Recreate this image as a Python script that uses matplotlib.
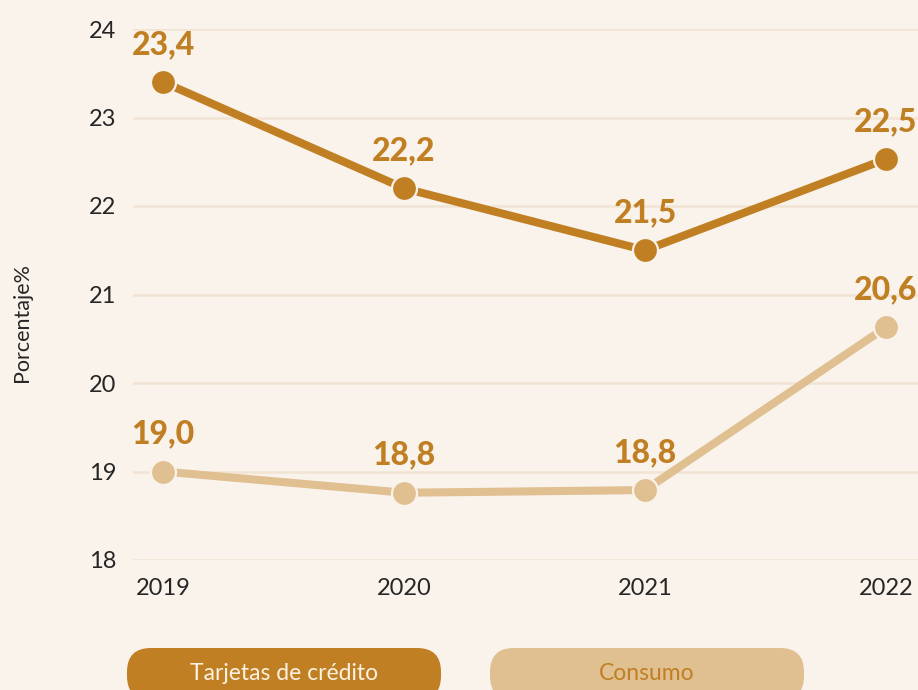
import matplotlib
matplotlib.use("Agg")
import matplotlib.pyplot as plt
from matplotlib.patches import FancyBboxPatch

years = ["2019", "2020", "2021", "2022"]
tarjetas = [23.4, 22.2, 21.5, 22.53]
consumo = [19.0, 18.76, 18.79, 20.63]
series_names = ["Tarjetas de crédito", "Consumo"]
y_ticks = [18, 19, 20, 21, 22, 23, 24]

BG = "#f9f3ec"
GOLD = "#c07f22"
TAN = "#e0bf90"
GRID = "#f1e4d2"
INK = "#262626"

plt.rcParams["font.family"] = ["Lato", "DejaVu Sans"]

fig = plt.figure(figsize=(9.18, 6.90), dpi=100, facecolor=BG)
ax = fig.add_axes([133 / 918, 130 / 690, 785 / 918, 531 / 690])
ax.set_facecolor(BG)

x = list(range(len(years)))
for vals, color in [(consumo, TAN), (tarjetas, GOLD)]:
    ax.plot(x, vals, color=color, lw=5.8, marker="o", ms=18,
            mec=BG, mew=1.6, solid_capstyle="round", zorder=3, clip_on=False)
    for xi, v in zip(x, vals):
        ax.annotate(f"{v:.1f}".replace(".", ","), (xi, v), xytext=(0, 27),
                    textcoords="offset points", ha="center", va="center",
                    fontsize=23, fontweight="black", color=GOLD, zorder=4,
                    annotation_clip=False)

ax.set_xlim(-0.125, 3.133)
ax.set_ylim(18, 24)
ax.set_yticks(y_ticks)
ax.set_xticks(x, years)
ax.yaxis.grid(True, color=GRID, lw=1.8)
ax.set_axisbelow(True)
for s in ax.spines.values():
    s.set_visible(False)
ax.tick_params(axis="both", length=0, labelsize=17, labelcolor=INK)
ax.tick_params(axis="y", pad=12)
ax.tick_params(axis="x", pad=13)

fig.text(22 / 918, 1 - 323 / 690, "Porcentaje%", rotation=90, ha="center",
         va="center", fontsize=15.5, color=INK)

# legend pills
pills = [(127, 441, GOLD, "#fbf1e2"), (490, 804, TAN, GOLD)]
for name, (x0, x1, fc, tc) in zip(series_names, pills):
    box = FancyBboxPatch((x0 / 918, 1 - 700 / 690), (x1 - x0) / 918, 52 / 690,
                         boxstyle="round,pad=0,rounding_size=0.026",
                         transform=fig.transFigure, facecolor=fc,
                         edgecolor="none", mutation_aspect=918 / 690)
    fig.patches.append(box)
    fig.text((x0 + x1) / 2 / 918, 1 - 673 / 690, name, ha="center",
             va="center", fontsize=16.5, color=tc)

fig.savefig("out.png", dpi=100, facecolor=BG)
